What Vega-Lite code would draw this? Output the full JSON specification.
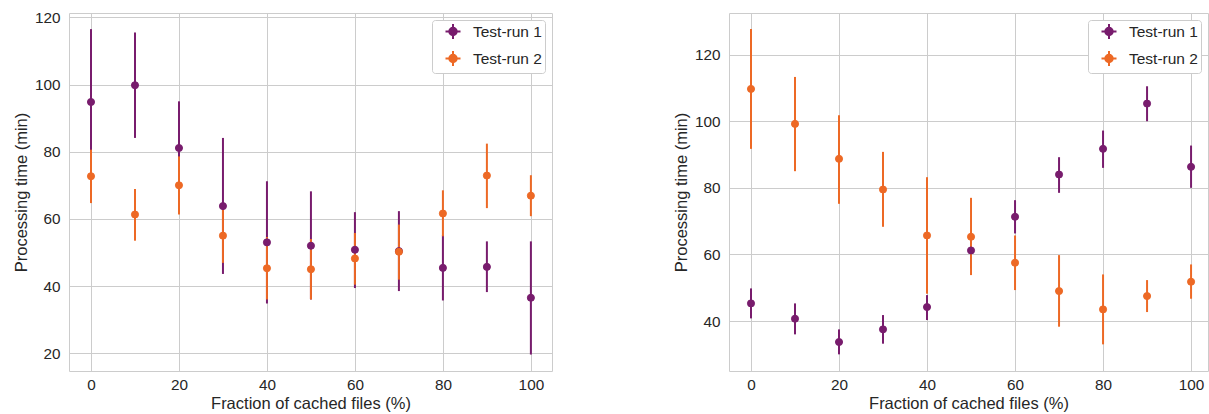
{
  "$schema": "https://vega.github.io/schema/vega-lite/v6.json",
  "background": "white",
  "padding": {"left": 12, "top": 9, "right": 0, "bottom": 0},
  "bounds": "flush",
  "spacing": 177,
  "datasets": {
    "left": [
      {"frac": 0, "run": "Test-run 1", "mean": 94.8, "lo": 73.1, "hi": 116.5},
      {"frac": 10, "run": "Test-run 1", "mean": 99.8, "lo": 84.1, "hi": 115.5},
      {"frac": 20, "run": "Test-run 1", "mean": 81.1, "lo": 67.2, "hi": 95.0},
      {"frac": 30, "run": "Test-run 1", "mean": 63.8, "lo": 43.6, "hi": 84.1},
      {"frac": 40, "run": "Test-run 1", "mean": 53.0, "lo": 34.8, "hi": 71.2},
      {"frac": 50, "run": "Test-run 1", "mean": 52.0, "lo": 36.0, "hi": 68.2},
      {"frac": 60, "run": "Test-run 1", "mean": 50.8, "lo": 39.4, "hi": 62.0},
      {"frac": 70, "run": "Test-run 1", "mean": 50.4, "lo": 38.5, "hi": 62.3},
      {"frac": 80, "run": "Test-run 1", "mean": 45.4, "lo": 35.7, "hi": 55.1},
      {"frac": 90, "run": "Test-run 1", "mean": 45.7, "lo": 38.2, "hi": 53.3},
      {"frac": 100, "run": "Test-run 1", "mean": 36.5, "lo": 19.6, "hi": 53.3},
      {"frac": 0, "run": "Test-run 2", "mean": 72.7, "lo": 64.7, "hi": 80.6},
      {"frac": 10, "run": "Test-run 2", "mean": 61.3, "lo": 53.5, "hi": 68.9},
      {"frac": 20, "run": "Test-run 2", "mean": 70.0, "lo": 61.3, "hi": 78.6},
      {"frac": 30, "run": "Test-run 2", "mean": 55.0, "lo": 46.9, "hi": 63.1},
      {"frac": 40, "run": "Test-run 2", "mean": 45.3, "lo": 36.0, "hi": 54.6},
      {"frac": 50, "run": "Test-run 2", "mean": 45.0, "lo": 36.0, "hi": 54.0},
      {"frac": 60, "run": "Test-run 2", "mean": 48.2, "lo": 40.4, "hi": 55.8},
      {"frac": 70, "run": "Test-run 2", "mean": 50.2, "lo": 41.9, "hi": 58.3},
      {"frac": 80, "run": "Test-run 2", "mean": 61.6, "lo": 54.8, "hi": 68.5},
      {"frac": 90, "run": "Test-run 2", "mean": 72.9, "lo": 63.2, "hi": 82.4},
      {"frac": 100, "run": "Test-run 2", "mean": 66.9, "lo": 60.8, "hi": 73.0}
    ],
    "right": [
      {"frac": 0, "run": "Test-run 1", "mean": 45.3, "lo": 40.8, "hi": 49.8},
      {"frac": 10, "run": "Test-run 1", "mean": 40.7, "lo": 36.0, "hi": 45.3},
      {"frac": 20, "run": "Test-run 1", "mean": 33.7, "lo": 30.0, "hi": 37.5},
      {"frac": 30, "run": "Test-run 1", "mean": 37.5, "lo": 33.2, "hi": 41.8},
      {"frac": 40, "run": "Test-run 1", "mean": 44.2, "lo": 40.3, "hi": 47.8},
      {"frac": 50, "run": "Test-run 1", "mean": 61.2, "lo": 55.8, "hi": 66.6},
      {"frac": 60, "run": "Test-run 1", "mean": 71.3, "lo": 66.3, "hi": 76.3},
      {"frac": 70, "run": "Test-run 1", "mean": 84.0, "lo": 78.5, "hi": 89.2},
      {"frac": 80, "run": "Test-run 1", "mean": 91.7, "lo": 86.0, "hi": 97.2},
      {"frac": 90, "run": "Test-run 1", "mean": 105.3, "lo": 100.0, "hi": 110.5},
      {"frac": 100, "run": "Test-run 1", "mean": 86.3, "lo": 80.0, "hi": 92.7},
      {"frac": 0, "run": "Test-run 2", "mean": 109.7, "lo": 91.7, "hi": 127.7},
      {"frac": 10, "run": "Test-run 2", "mean": 99.2, "lo": 85.0, "hi": 113.3},
      {"frac": 20, "run": "Test-run 2", "mean": 88.7, "lo": 75.2, "hi": 101.8},
      {"frac": 30, "run": "Test-run 2", "mean": 79.5, "lo": 68.3, "hi": 90.8},
      {"frac": 40, "run": "Test-run 2", "mean": 65.7, "lo": 48.2, "hi": 83.2},
      {"frac": 50, "run": "Test-run 2", "mean": 65.3, "lo": 53.8, "hi": 77.0},
      {"frac": 60, "run": "Test-run 2", "mean": 57.5, "lo": 49.3, "hi": 65.7},
      {"frac": 70, "run": "Test-run 2", "mean": 49.0, "lo": 38.3, "hi": 59.8},
      {"frac": 80, "run": "Test-run 2", "mean": 43.5, "lo": 33.0, "hi": 54.0},
      {"frac": 90, "run": "Test-run 2", "mean": 47.5, "lo": 42.7, "hi": 52.3},
      {"frac": 100, "run": "Test-run 2", "mean": 51.8, "lo": 46.7, "hi": 57.0}
    ]
  },
  "resolve": {"scale": {"color": "independent", "y": "independent", "x": "independent"}, "legend": {"color": "independent"}},
  "hconcat": [
    {
      "width": 483,
      "height": 358,
      "data": {"name": "left"},
      "encoding": {
        "x": {"field": "frac", "type": "quantitative", "title": "Fraction of cached files (%)",
              "scale": {"domain": [-5, 104.8], "nice": false, "zero": false},
              "axis": {"values": [0, 20, 40, 60, 80, 100]}},
        "y": {"field": "mean", "type": "quantitative", "title": "Processing time (min)",
              "scale": {"domain": [14.7, 121.3], "nice": false, "zero": false},
              "axis": {"values": [20, 40, 60, 80, 100, 120]}},
        "color": {"field": "run", "type": "nominal",
                  "scale": {"domain": ["Test-run 1", "Test-run 2"], "range": ["#781c6d", "#ed6925"]},
                  "legend": {
                    "title": null, "orient": "top-right", "offset": 7, "padding": 3,
                    "fillColor": "white", "strokeColor": "#cccccc", "cornerRadius": 3,
                    "symbolType": "M0,-1L0,1M-1,0L1,0M-0.5,0A0.5,0.5,0,1,0,0.5,0A0.5,0.5,0,1,0,-0.5,0Z",
                    "symbolSize": 225, "symbolStrokeWidth": 2, "symbolOffset": 9.5, "labelOffset": 11.5,
                    "labelFontSize": 15.5, "labelColor": "#262626", "rowPadding": 4,
                    "symbolOpacity": 1,
                    "encode": {"symbols": {"update": {
                      "stroke": {"signal": "datum.value === 'Test-run 1' ? '#781c6d' : '#ed6925'"},
                      "fill": {"signal": "datum.value === 'Test-run 1' ? '#781c6d' : '#ed6925'"},
                      "strokeWidth": {"value": 2}
                    }}}
                  }}
      },
      "layer": [
        {
          "mark": {"type": "rule", "strokeWidth": 2},
          "encoding": {
            "y": {"field": "lo", "type": "quantitative"},
            "y2": {"field": "hi"}
          }
        },
        {
          "mark": {"type": "point", "filled": true, "size": 50, "opacity": 1, "strokeWidth": 1, "shape": "circle"},
          "encoding": {
            "stroke": {"field": "run", "type": "nominal", "legend": null,
                       "scale": {"domain": ["Test-run 1", "Test-run 2"], "range": ["#781c6d", "#ed6925"]}}
          }
        }
      ]
    },
    {
      "width": 479,
      "height": 358,
      "data": {"name": "right"},
      "encoding": {
        "x": {"field": "frac", "type": "quantitative", "title": "Fraction of cached files (%)",
              "scale": {"domain": [-5, 103.85], "nice": false, "zero": false},
              "axis": {"values": [0, 20, 40, 60, 80, 100]}},
        "y": {"field": "mean", "type": "quantitative", "title": "Processing time (min)",
              "scale": {"domain": [25, 132.5], "nice": false, "zero": false},
              "axis": {"values": [40, 60, 80, 100, 120]}},
        "color": {"field": "run", "type": "nominal",
                  "scale": {"domain": ["Test-run 1", "Test-run 2"], "range": ["#781c6d", "#ed6925"]},
                  "legend": {
                    "title": null, "orient": "top-right", "offset": 7, "padding": 3,
                    "fillColor": "white", "strokeColor": "#cccccc", "cornerRadius": 3,
                    "symbolType": "M0,-1L0,1M-1,0L1,0M-0.5,0A0.5,0.5,0,1,0,0.5,0A0.5,0.5,0,1,0,-0.5,0Z",
                    "symbolSize": 225, "symbolStrokeWidth": 2, "symbolOffset": 9.5, "labelOffset": 11.5,
                    "labelFontSize": 15.5, "labelColor": "#262626", "rowPadding": 4,
                    "symbolOpacity": 1,
                    "encode": {"symbols": {"update": {
                      "stroke": {"signal": "datum.value === 'Test-run 1' ? '#781c6d' : '#ed6925'"},
                      "fill": {"signal": "datum.value === 'Test-run 1' ? '#781c6d' : '#ed6925'"},
                      "strokeWidth": {"value": 2}
                    }}}
                  }}
      },
      "layer": [
        {
          "mark": {"type": "rule", "strokeWidth": 2},
          "encoding": {
            "y": {"field": "lo", "type": "quantitative"},
            "y2": {"field": "hi"}
          }
        },
        {
          "mark": {"type": "point", "filled": true, "size": 50, "opacity": 1, "strokeWidth": 1, "shape": "circle"},
          "encoding": {
            "stroke": {"field": "run", "type": "nominal", "legend": null,
                       "scale": {"domain": ["Test-run 1", "Test-run 2"], "range": ["#781c6d", "#ed6925"]}}
          }
        }
      ]
    }
  ],
  "config": {
    "font": "Liberation Sans",
    "view": {"stroke": "#cccccc", "strokeWidth": 1},
    "axis": {
      "grid": true,
      "gridColor": "#cccccc",
      "gridWidth": 1,
      "domain": false,
      "ticks": false,
      "labelFont": "Liberation Sans",
      "labelFontSize": 15.3,
      "labelColor": "#262626",
      "titleFont": "Liberation Sans",
      "titleFontSize": 16.5,
      "titleFontWeight": "normal",
      "titleColor": "#262626"
    },
    "axisX": {"labelPadding": 6, "titlePadding": 3},
    "axisY": {"labelPadding": 9, "titlePadding": 5},
    "legend": {"labelFont": "Liberation Sans"}
  }
}
